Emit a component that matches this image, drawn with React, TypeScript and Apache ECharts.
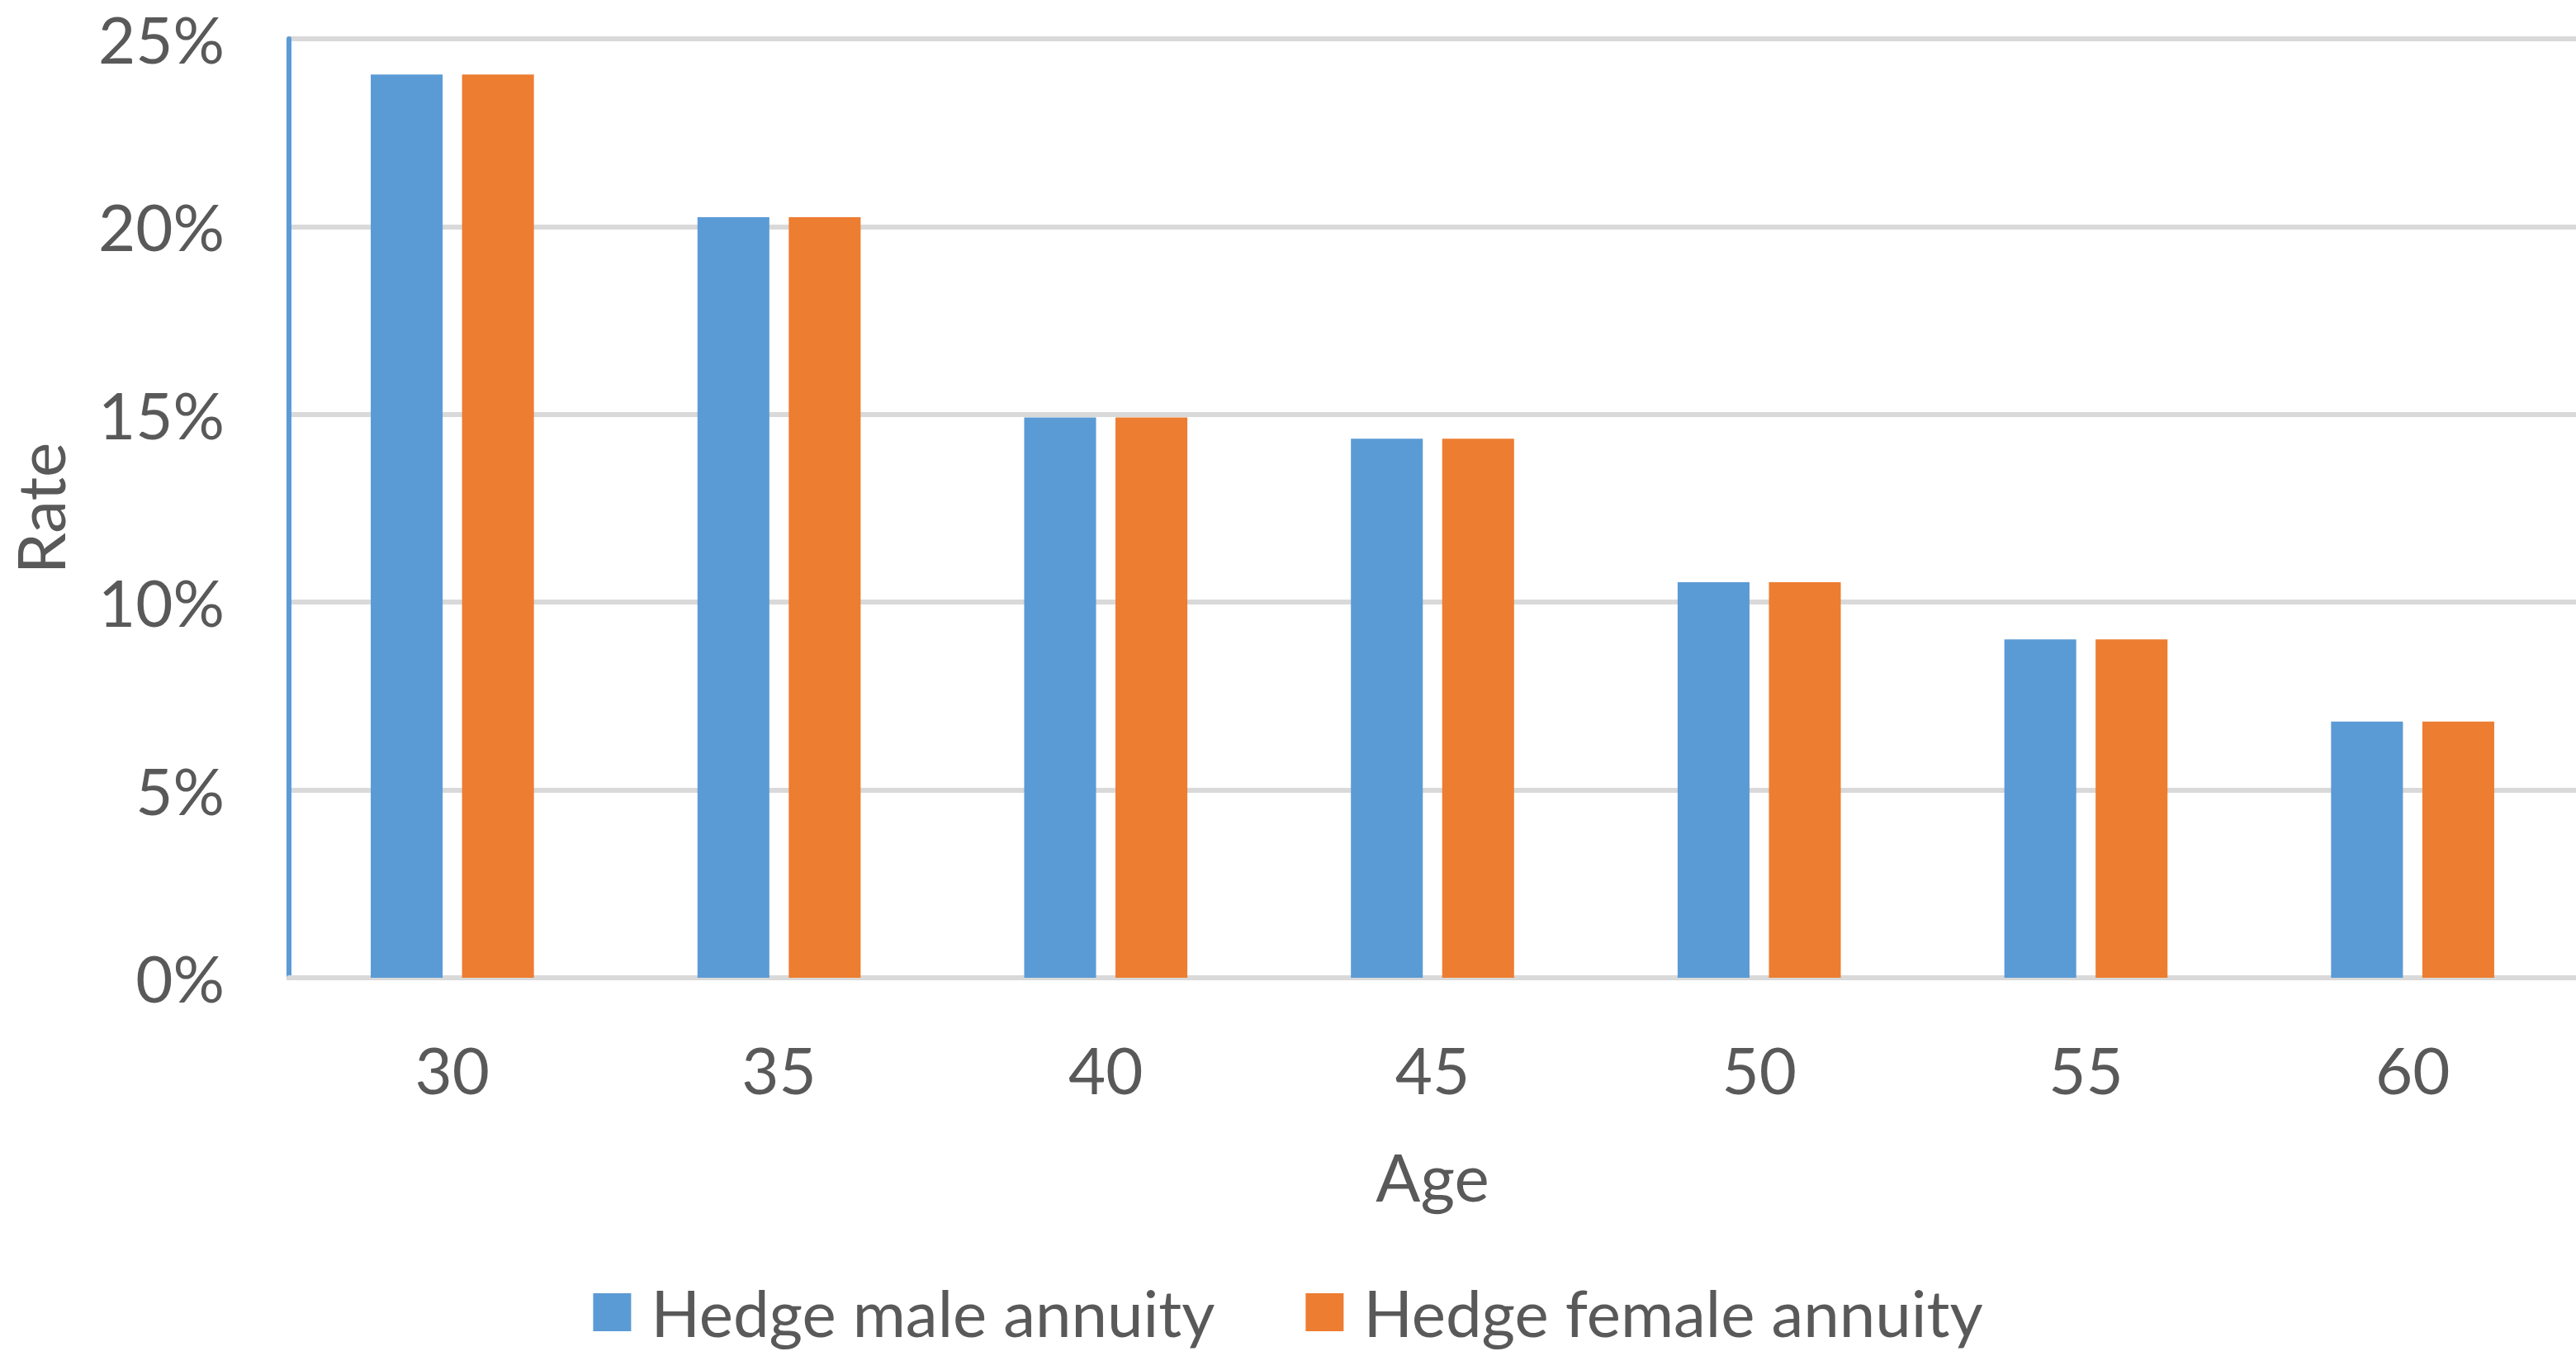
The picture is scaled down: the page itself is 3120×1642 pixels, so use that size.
import React, { useEffect, useRef } from "react";
import * as echarts from "echarts";

const ages = ["30", "35", "40", "45", "50", "55", "60"];
const maleRates = [0.2405, 0.2025, 0.1492, 0.1435, 0.1053, 0.0901, 0.0682];
const femaleRates = [0.2405, 0.2025, 0.1492, 0.1435, 0.1053, 0.0901, 0.0682];
const seriesNames = ["Hedge male annuity", "Hedge female annuity"];
const yTicks = { min: 0, max: 0.25, interval: 0.05 };

const FONT = "Lato";
const TEXT = "#595959";

export default function App() {
  const ref = useRef<HTMLDivElement>(null);
  useEffect(() => {
    if (!ref.current) return;
    const chart = echarts.init(ref.current, undefined, { renderer: "svg" });
    chart.setOption({
      animation: false,
      backgroundColor: "#ffffff",
      textStyle: { fontFamily: FONT },
      grid: { left: 348, right: 0, top: 47, bottom: 458, containLabel: false },
      legend: {
        data: seriesNames,
        left: "center",
        top: 1545,
        itemWidth: 46,
        itemHeight: 46,
        itemGap: 110,
        icon: "rect",
        textStyle: {
          fontFamily: FONT,
          fontSize: 78,
          lineHeight: 78,
          color: TEXT,
          padding: [0, 0, 0, 19],
        },
      },
      xAxis: {
        type: "category",
        data: ages,
        name: "Age",
        nameLocation: "middle",
        nameGap: 200,
        nameTextStyle: { fontFamily: FONT, fontSize: 80, lineHeight: 80, color: TEXT },
        axisLine: { show: true, lineStyle: { color: "#D9D9D9", width: 6 } },
        axisTick: { show: false },
        axisLabel: { fontFamily: FONT, fontSize: 78, color: TEXT, margin: 72, lineHeight: 78 },
      },
      yAxis: {
        type: "value",
        min: yTicks.min,
        max: yTicks.max,
        interval: yTicks.interval,
        name: "Rate",
        nameLocation: "middle",
        nameGap: 262,
        nameTextStyle: { fontFamily: FONT, fontSize: 80, lineHeight: 80, color: TEXT },
        axisLine: { show: true, lineStyle: { color: "#5B9BD5", width: 6 } },
        axisTick: { show: false },
        splitLine: { show: true, lineStyle: { color: "#D9D9D9", width: 6 } },
        axisLabel: {
          fontFamily: FONT,
          fontSize: 78,
          lineHeight: 78,
          color: TEXT,
          margin: 78,
          formatter: (v: number) => Math.round(v * 100) + "%",
        },
      },
      series: [
        {
          name: seriesNames[0],
          type: "bar",
          data: maleRates,
          barWidth: "22%",
          barGap: "27%",
          itemStyle: { color: "#5B9BD5" },
        },
        {
          name: seriesNames[1],
          type: "bar",
          data: femaleRates,
          barWidth: "22%",
          barGap: "27%",
          itemStyle: { color: "#ED7D31" },
        },
      ],
    });
    return () => chart.dispose();
  }, []);
  return (
    <div
      ref={ref}
      style={{ position: "absolute", left: 0, top: 0, width: 3120, height: 1642 }}
    />
  );
}
